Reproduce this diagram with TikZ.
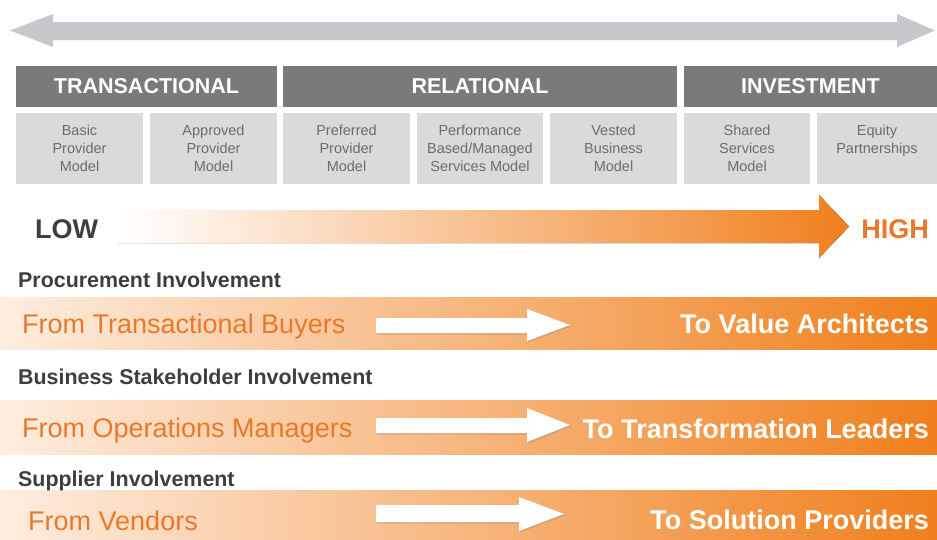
\documentclass[tikz,border=0pt]{standalone}
\usepackage{fontspec}
\setmainfont{Liberation Sans}
\usetikzlibrary{shadows}
\definecolor{bargray}{RGB}{200,200,204}
\definecolor{headgray}{RGB}{122,122,122}
\definecolor{boxgray}{RGB}{218,218,218}
\definecolor{boxtext}{RGB}{108,108,108}
\definecolor{darktext}{RGB}{62,62,62}
\definecolor{orangemain}{RGB}{240,127,28}
\definecolor{orangetext}{RGB}{234,120,40}
\begin{document}
\begin{tikzpicture}[x=1pt,y=-1pt]
\tikzstyle{every node}+=[inner sep=0pt]
\tikzstyle{hdrbox}=[fill=headgray, text=white, minimum height=41pt, font=\fontsize{21.5}{24}\selectfont\bfseries]
\tikzstyle{model}=[fill=boxgray, text=boxtext, minimum height=71pt, align=center, font=\fontsize{14.5}{18.3}\selectfont]
\tikzstyle{bandfill}=[left color=orangemain!14!white, middle color=orangemain!55!white, right color=orangemain]
\tikzstyle{lowhigh}=[font=\fontsize{27}{30}\selectfont\bfseries]
\tikzstyle{leadlabel}=[anchor=base west, text=darktext, font=\fontsize{21.4}{24}\selectfont\bfseries]
\tikzstyle{fromlabel}=[anchor=base west, text=orangetext, font=\fontsize{27}{30}\selectfont]
\tikzstyle{tolabel}=[anchor=base east, text=white, font=\fontsize{27}{30}\selectfont\bfseries]
\tikzstyle{movearrow}=[fill=white, drop shadow={opacity=0.3, shadow xshift=0.8pt, shadow yshift=-1.5pt}]
\useasboundingbox (0,0) rectangle (937,539);
% top scale arrow
\fill [bargray] (10,30.5) -- (53,14) -- (53,22) -- (897,22) -- (897,14) -- (935,30.5) -- (897,47) -- (897,40) -- (53,40) -- (53,47) -- cycle;
% relationship groups
\node [hdrbox, minimum width=261pt] (transactional) at (146.5,86.5) {TRANSACTIONAL};
\node [hdrbox, minimum width=394pt] (relational) at (480,86.5) {RELATIONAL};
\node [hdrbox, minimum width=253pt] (investment) at (810.5,86.5) {INVESTMENT};
\node [model, minimum width=127pt] (basic) at (79.5,148.5) {Basic\\Provider\\Model};
\node [model, minimum width=127pt] (approved) at (213.5,148.5) {Approved\\Provider\\Model};
\node [model, minimum width=127pt] (preferred) at (346.5,148.5) {Preferred\\Provider\\Model};
\node [model, minimum width=126pt] (performance) at (480,148.5) {Performance\\Based/Managed\\Services Model};
\node [model, minimum width=127pt] (vested) at (613.5,148.5) {Vested\\Business\\Model};
\node [model, minimum width=126pt] (shared) at (747,148.5) {Shared\\Services\\Model};
\node [model, minimum width=120pt] (equity) at (877,148.5) {Equity\\Partnerships\\\mbox{}};
% low to high
\fill [left color=white, right color=orangemain] (118,210) -- (819,210) -- (819,195) -- (849,226.5) -- (819,258) -- (819,243) -- (118,243) -- cycle;
\node [lowhigh, anchor=base west, text=darktext] (low) at (35,238) {LOW};
\node [lowhigh, anchor=base east, text=orangetext] (high) at (929,238) {HIGH};
% involvement bands
\fill [bandfill] (0,297) rectangle (937,349);
\fill [bandfill] (0,400) rectangle (937,454);
\fill [bandfill] (0,490) rectangle (937,539);
\fill [movearrow] (376,318) -- (527,318) -- (527,309) -- (570,325) -- (527,341) -- (527,333) -- (376,333) -- cycle;
\fill [movearrow] (376,418) -- (527,418) -- (527,408) -- (570,425) -- (527,442) -- (527,433) -- (376,433) -- cycle;
\fill [movearrow] (376,505) -- (519,505) -- (519,497) -- (564,514) -- (519,531) -- (519,522) -- (376,522) -- cycle;
\node [leadlabel] (procurement) at (18,287) {Procurement Involvement};
\node [fromlabel] (buyers) at (22,333) {From Transactional Buyers};
\node [tolabel] (architects) at (929,333) {To Value Architects};
\node [leadlabel] (stakeholder) at (18,384) {Business Stakeholder Involvement};
\node [fromlabel] (managers) at (22,437) {From Operations Managers};
\node [tolabel] (leaders) at (929,438) {To Transformation Leaders};
\node [leadlabel] (supplier) at (18,486) {Supplier Involvement};
\node [fromlabel] (vendors) at (28,530) {From Vendors};
\node [tolabel] (providers) at (929,529) {To Solution Providers};
\end{tikzpicture}
\end{document}
